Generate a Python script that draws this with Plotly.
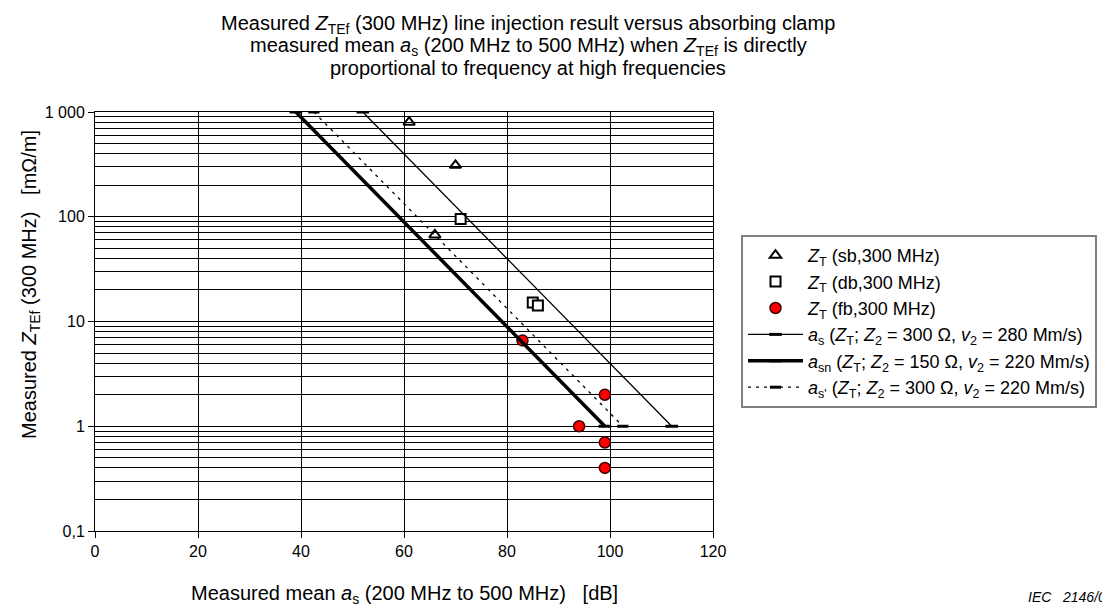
import plotly.graph_objects as go

# --- data ---
sb_x = [61, 70, 66]
sb_y = [800, 310, 67]
db_x = [71, 85, 86]
db_y = [95, 15.2, 14.2]
fb_x = [83, 99, 94, 99, 99]
fb_y = [6.6, 2.0, 1.0, 0.70, 0.40]

as_x = [52, 112]
as_y = [1000, 1]
asn_x = [39, 99]
asn_y = [1000, 1]
asp_x = [42.5, 102.5]
asp_y = [1000, 1]

x_ticks = [0, 20, 40, 60, 80, 100, 120]
y_tickvals = [0.1, 1, 10, 100, 1000]
y_ticktext = ["0,1", "1", "10", "100", "1 000"]

title_lines = [
    "Measured <i>Z</i><sub>TEf</sub> (300 MHz) line injection result versus absorbing clamp",
    "measured mean <i>a</i><sub>s</sub> (200 MHz to 500 MHz) when <i>Z</i><sub>TEf</sub> is directly",
    "proportional to frequency at high frequencies",
]
x_title = "Measured mean <i>a</i><sub>s</sub> (200 MHz to 500 MHz)   [dB]"
y_title = "Measured <i>Z</i><sub>TEf</sub> (300 MHz)   [mΩ/m]"

FONT = "Liberation Sans, Arial, sans-serif"

# plot-area geometry in pixels (used only to place texts in paper coords)
L, R, T, B = 87, 705, 104, 523
PW, PH = R - L, B - T


def px_x(x):
    return (x - L) / PW


def px_y(y):
    return (B - y) / PH


fig = go.Figure()

fig.add_trace(go.Scatter(
    x=sb_x, y=sb_y, mode="markers",
    name="<i>Z</i><sub>T</sub> (sb,300 MHz)",
    marker=dict(symbol="triangle-up-open", size=10, color="black", line=dict(width=2)),
))
fig.add_trace(go.Scatter(
    x=db_x, y=db_y, mode="markers",
    name="<i>Z</i><sub>T</sub> (db,300 MHz)",
    marker=dict(symbol="square", size=10, color="white", line=dict(width=2, color="black")),
))
fig.add_trace(go.Scatter(
    x=fb_x, y=fb_y, mode="markers",
    name="<i>Z</i><sub>T</sub> (fb,300 MHz)",
    marker=dict(symbol="circle", size=11, color="#ff0000", line=dict(width=1.5, color="#3a0000")),
))
fig.add_trace(go.Scatter(
    x=as_x, y=as_y, mode="lines+markers",
    name="<i>a</i><sub>s</sub> (<i>Z</i><sub>T</sub>; <i>Z</i><sub>2</sub> = 300 Ω, <i>v</i><sub>2</sub> = 280 Mm/s)",
    line=dict(color="black", width=1.3),
    marker=dict(symbol="line-ew", size=9, line=dict(width=3, color="black")),
))
fig.add_trace(go.Scatter(
    x=asn_x, y=asn_y, mode="lines+markers",
    name="<i>a</i><sub>sn</sub> (<i>Z</i><sub>T</sub>; <i>Z</i><sub>2</sub> = 150 Ω, <i>v</i><sub>2</sub> = 220 Mm/s)",
    line=dict(color="black", width=3.5),
    marker=dict(symbol="line-ew", size=9, line=dict(width=3, color="black")),
))
fig.add_trace(go.Scatter(
    x=asp_x, y=asp_y, mode="lines+markers",
    name="<i>a</i><sub>s'</sub> (<i>Z</i><sub>T</sub>; <i>Z</i><sub>2</sub> = 300 Ω, <i>v</i><sub>2</sub> = 220 Mm/s)",
    line=dict(color="black", width=1.3, dash="3px,5px"),
    marker=dict(symbol="line-ew", size=8, line=dict(width=3, color="black")),
))

fig.update_layout(
    width=1110, height=605,
    margin=dict(l=L, r=1110 - R, t=T, b=605 - B),
    paper_bgcolor="white", plot_bgcolor="white",
    font=dict(family=FONT, size=16, color="black"),
    showlegend=True,
    legend=dict(
        x=px_x(733), xanchor="left", y=px_y(227), yanchor="top",
        bordercolor="#808080", borderwidth=2, bgcolor="white",
        itemwidth=55,
        font=dict(family=FONT, size=18, color="black"),
    ),
)

fig.update_xaxes(
    range=[0, 120], tickvals=x_ticks,
    showgrid=True, gridcolor="black", gridwidth=1,
    showline=True, linecolor="black", linewidth=1, mirror=True,
    ticks="outside", ticklen=6, tickcolor="black",
    tickfont=dict(family=FONT, size=16),
    zeroline=False,
)
fig.update_yaxes(
    type="log", range=[-1, 3], tickvals=y_tickvals, ticktext=y_ticktext,
    showgrid=True, gridcolor="black", gridwidth=1,
    showline=True, linecolor="black", linewidth=1, mirror=True,
    ticks="outside", ticklen=6, tickcolor="black",
    tickfont=dict(family=FONT, size=16),
    minor=dict(showgrid=True, gridcolor="black", gridwidth=1, ticks="", dtick="D1"),
    zeroline=False,
)

# title (three lines, tight spacing as in the reference)
for txt, yc in zip(title_lines, [16, 38, 60]):
    fig.add_annotation(
        text=txt, xref="paper", yref="paper",
        x=px_x(520), y=px_y(yc), xanchor="center", yanchor="middle",
        showarrow=False, font=dict(family=FONT, size=20, color="black"),
    )

# axis titles
fig.add_annotation(
    text=x_title, xref="paper", yref="paper",
    x=px_x(396), y=px_y(586), xanchor="center", yanchor="middle",
    showarrow=False, font=dict(family=FONT, size=20, color="black"),
)
fig.add_annotation(
    text=y_title, xref="paper", yref="paper", textangle=-90,
    x=px_x(22), y=px_y(277), xanchor="center", yanchor="middle",
    showarrow=False, font=dict(family=FONT, size=20, color="black"),
)

fig.add_annotation(
    text="<i>IEC   2146/07</i>", xref="paper", yref="paper",
    x=px_x(1018), y=px_y(589), xanchor="left", yanchor="middle",
    showarrow=False, font=dict(family=FONT, size=14, color="black"),
)

fig.write_html("out.html")
